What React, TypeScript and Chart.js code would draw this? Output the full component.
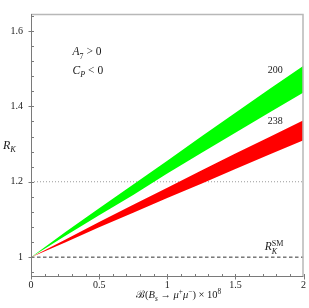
import { useEffect, useRef } from "react";
import { Chart, registerables } from "chart.js";

Chart.register(...registerables);

// ---- data ----
const xValues = [0, 0.25, 0.5, 0.75, 1, 1.25, 1.5, 1.75, 2];
const greenUpper = [1, 1.066, 1.13, 1.193, 1.256, 1.32, 1.383, 1.446, 1.508];
const greenLower = [1, 1.056, 1.111, 1.165, 1.222, 1.276, 1.33, 1.384, 1.437];
const redUpper = [1, 1.046, 1.093, 1.139, 1.184, 1.23, 1.275, 1.319, 1.363];
const redLower = [1, 1.039, 1.079, 1.118, 1.157, 1.195, 1.234, 1.272, 1.31];
const refLineX = [0, 2];
const dottedLevel = 1.2;
const smLevel = 1;

const xRange = [0, 2];
const yRange = [0.95, 1.645];
const xMajorTicks = [0, 0.5, 1, 1.5, 2];
const xMinorStep = 0.1;
const yMajorTicks = [1, 1.2, 1.4, 1.6];
const yMinorStep = 0.04;

const bandLabels = ["200", "238"];

const SERIF = "'Liberation Serif', 'DejaVu Serif', serif";

type Seg = { t: string; i?: boolean; s?: "sub" | "sup"; keep?: boolean };

function drawRich(ctx: CanvasRenderingContext2D, segs: Seg[], x: number, y: number, size: number) {
  let cx = x;
  for (const seg of segs) {
    const fs = seg.s ? size * 0.7 : size;
    ctx.font = `${seg.i ? "italic " : ""}${fs}px ${SERIF}`;
    const dy = seg.s === "sub" ? size * 0.28 : seg.s === "sup" ? -size * 0.42 : 0;
    ctx.fillText(seg.t, cx, y + dy);
    if (!seg.keep) cx += ctx.measureText(seg.t).width;
  }
}

const near = (a: number, b: number) => Math.abs(a - b) < 1e-6;
const fmt = (v: number) => String(Number(v.toFixed(3)));

function minorList(step: number, lo: number, hi: number) {
  const out: number[] = [];
  const start = Math.ceil(lo / step - 1e-9);
  const end = Math.floor(hi / step + 1e-9);
  for (let n = start; n <= end; n++) out.push(Number((n * step).toFixed(6)));
  return out;
}

// annotation anchors in data coordinates (left edge, baseline)
const annotations: { x: number; y: number; size: number; segs: Seg[] }[] = [
  { x: 0.305, y: 1.535, size: 11.5, segs: [{ t: "A", i: true }, { t: "7", s: "sub" }, { t: " > 0" }] },
  { x: 0.305, y: 1.487, size: 11.5, segs: [{ t: "C", i: true }, { t: "P", i: true, s: "sub" }, { t: " < 0" }] },
  { x: 1.738, y: 1.488, size: 10, segs: [{ t: bandLabels[0] }] },
  { x: 1.738, y: 1.354, size: 10, segs: [{ t: bandLabels[1] }] },
  {
    x: 1.716,
    y: 1.018,
    size: 11.5,
    segs: [{ t: "R", i: true }, { t: "K", i: true, s: "sub", keep: true }, { t: "SM", s: "sup" }],
  },
];

const xTitle: Seg[] = [
  { t: "\u212C(" },
  { t: "B", i: true },
  { t: "s", i: true, s: "sub" },
  { t: " \u2192 " },
  { t: "\u03BC", i: true },
  { t: "+", s: "sup" },
  { t: "\u03BC", i: true },
  { t: "\u2212", s: "sup" },
  { t: ") \u00D7 10" },
  { t: "8", s: "sup" },
];
const yTitle: Seg[] = [{ t: "R", i: true }, { t: "K", i: true, s: "sub" }];

const overlay = {
  id: "overlay",
  afterDraw(chart: any) {
    const { ctx, chartArea: a, scales } = chart;
    const xs = scales.x;
    const ys = scales.y;
    ctx.save();
    // frame top & right
    ctx.strokeStyle = "#b8b8b8";
    ctx.lineWidth = 1.5;
    ctx.beginPath();
    ctx.moveTo(a.left, a.top + 0.5);
    ctx.lineTo(a.right - 0.5, a.top + 0.5);
    ctx.lineTo(a.right - 0.5, a.bottom);
    ctx.stroke();
    // axes
    const L = Math.round(a.left) + 0.5;
    const B = Math.round(a.bottom) + 0.5;
    ctx.strokeStyle = "#7a7a7a";
    ctx.lineWidth = 1;
    ctx.beginPath();
    ctx.moveTo(L, a.top);
    ctx.lineTo(L, B);
    ctx.lineTo(a.right, B);
    ctx.stroke();
    // ticks
    ctx.beginPath();
    for (const v of minorList(xMinorStep, xRange[0], xRange[1])) {
      const px = Math.round(xs.getPixelForValue(v)) + 0.5;
      const major = xMajorTicks.some((m) => near(m, v));
      ctx.moveTo(px, B + (major ? 3 : 0));
      ctx.lineTo(px, B - 2.5);
    }
    for (const v of minorList(yMinorStep, yRange[0], yRange[1])) {
      const py = Math.round(ys.getPixelForValue(v)) + 0.5;
      const major = yMajorTicks.some((m) => near(m, v));
      ctx.moveTo(L - (major ? 3 : 0), py);
      ctx.lineTo(L + 2.5, py);
    }
    ctx.stroke();
    // texts
    ctx.fillStyle = "#1a1a1a";
    ctx.textBaseline = "alphabetic";
    ctx.textAlign = "left";
    for (const an of annotations) {
      drawRich(ctx, an.segs, xs.getPixelForValue(an.x), ys.getPixelForValue(an.y), an.size);
    }
    drawRich(ctx, xTitle, xs.getPixelForValue(0.771), a.bottom + 22, 10.5);
    drawRich(ctx, yTitle, 3, (a.top + a.bottom) / 2 + 3.5, 12);
    ctx.restore();
  },
};

function band(upper: number[], lower: number[], color: string) {
  const mk = (arr: number[]) => arr.map((y, i) => ({ x: xValues[i], y }));
  return [
    {
      data: mk(upper),
      borderWidth: 0,
      borderColor: "rgba(0,0,0,0)",
      backgroundColor: color,
      pointRadius: 0,
      fill: "+1",
      tension: 0,
    },
    {
      data: mk(lower),
      borderWidth: 0,
      borderColor: "rgba(0,0,0,0)",
      pointRadius: 0,
      fill: false,
      tension: 0,
    },
  ];
}

export default function App() {
  const ref = useRef<HTMLCanvasElement | null>(null);
  useEffect(() => {
    const canvas = ref.current;
    if (!canvas) return;
    const chart = new Chart(canvas, {
      type: "line",
      data: {
        datasets: [
          ...band(greenUpper, greenLower, "#00ff00"),
          ...band(redUpper, redLower, "#ff0000"),
          {
            data: refLineX.map((x) => ({ x, y: dottedLevel })),
            borderColor: "#9a9a9a",
            borderWidth: 1,
            borderDash: [1, 2],
            pointRadius: 0,
            fill: false,
          },
          {
            data: refLineX.map((x) => ({ x, y: smLevel })),
            borderColor: "#333333",
            borderWidth: 1,
            borderDash: [3.5, 2.5],
            pointRadius: 0,
            fill: false,
          },
        ] as any,
      },
      options: {
        animation: false,
        responsive: false,
        devicePixelRatio: 1,
        layout: { padding: { top: 3, right: 3, left: 0, bottom: 0 } },
        plugins: { legend: { display: false }, tooltip: { enabled: false }, title: { display: false } },
        scales: {
          x: {
            type: "linear",
            min: xRange[0],
            max: xRange[1],
            grid: { display: false, drawTicks: false, tickLength: 0 },
            border: { display: false },
            afterBuildTicks: (s: any) => {
              s.ticks = xMajorTicks.map((v) => ({ value: v }));
            },
            afterFit: (s: any) => {
              s.height = 32;
            },
            ticks: {
              autoSkip: false,
              maxRotation: 0,
              padding: 3,
              color: "#1a1a1a",
              font: { family: SERIF, size: 10 },
              callback: (v: any) => fmt(Number(v)),
            },
          },
          y: {
            type: "linear",
            min: yRange[0],
            max: yRange[1],
            grid: { display: false, drawTicks: false, tickLength: 0 },
            border: { display: false },
            afterBuildTicks: (s: any) => {
              s.ticks = yMajorTicks.map((v) => ({ value: v }));
            },
            afterFit: (s: any) => {
              s.width = 31;
            },
            ticks: {
              autoSkip: false,
              padding: 8,
              color: "#1a1a1a",
              font: { family: SERIF, size: 10 },
              callback: (v: any) => fmt(Number(v)),
            },
          },
        },
      } as any,
      plugins: [overlay],
    });
    return () => chart.destroy();
  }, []);
  return (
    <div style={{ position: "fixed", left: 0, top: 0, width: 309, height: 308, background: "#fff" }}>
      <canvas ref={ref} width={309} height={308} style={{ display: "block" }} />
    </div>
  );
}
